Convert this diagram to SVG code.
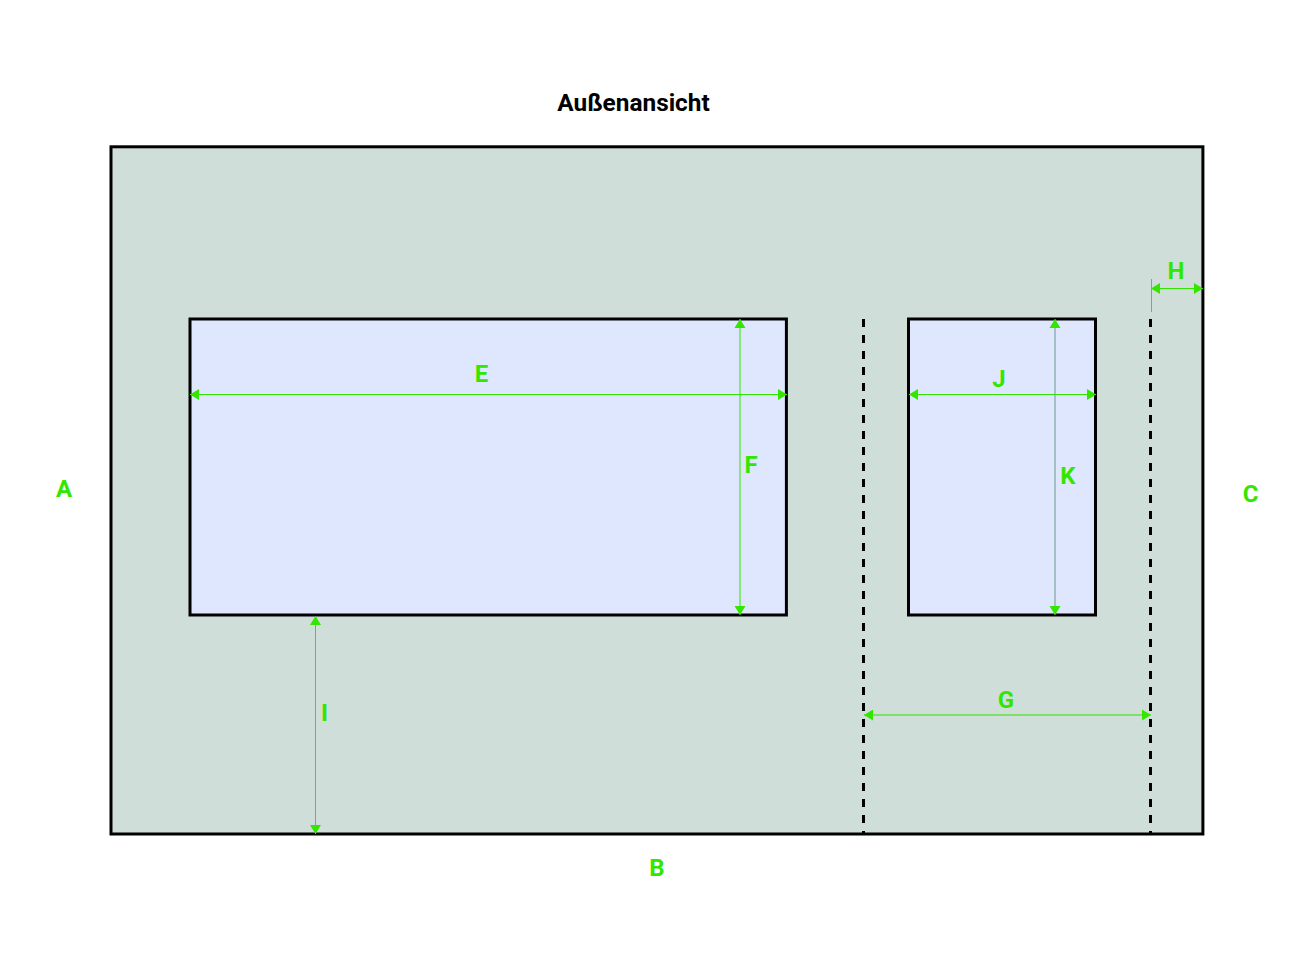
<svg xmlns="http://www.w3.org/2000/svg" width="1312" height="955" viewBox="0 0 1312 955">
<style>
text{font-family:Roboto,"Liberation Sans",sans-serif;font-weight:700;text-anchor:middle}
.l{font-size:24px;fill:#33e600}
.b{stroke:#000;stroke-width:3}
.d{fill:none;stroke:#000;stroke-width:3;stroke-dasharray:8 8}
.c{fill:none;stroke:#33e600;stroke-width:1;marker-start:url(#s);marker-end:url(#e)}
.k{stroke-width:1.500;stroke-opacity:.7}
</style>
<defs>
<marker id="e" markerUnits="userSpaceOnUse" markerWidth="10" markerHeight="12" refX="9" refY="5.500" orient="auto"><path d="M0 0L9 5.500L0 11Z" fill="#33e600"/></marker>
<marker id="s" markerUnits="userSpaceOnUse" markerWidth="10" markerHeight="12" refX="0" refY="5.500" orient="auto"><path d="M9 0L0 5.500L9 11Z" fill="#33e600"/></marker>
</defs>
<rect width="1312" height="955" fill="#fff"/>
<text x="633.500" y="111" font-size="24.400" fill="#000">Außenansicht</text>
<g id="wall"><rect class="b" x="111" y="146.800" width="1091.900" height="687.200" fill="#d0ded9"/></g>
<g id="window-left"><rect class="b" x="190" y="319" width="596.400" height="296" fill="#dfe7ff"/></g>
<g id="window-right"><rect class="b" x="908.500" y="319" width="187" height="296" fill="#dfe7ff"/></g>
<g id="guides">
<path class="d" d="M863.500 319V834"/>
<path class="d" d="M1150.500 319V834"/>
</g>
<g id="connectors">
<path class="c" d="M190 394.500H787"/>
<path class="c k" d="M740 319V615"/>
<path class="c" d="M909 394.500H1096"/>
<path class="c" style="stroke:#6a9a8a" d="M1055 319V615"/>
<path class="c k" d="M864 715H1151"/>
<path class="c" d="M1151 288.500H1203"/>
<path d="M1151.500 279V312" fill="none" stroke="#33e600"/>
<path class="c" d="M315.500 616V834"/>
</g>
<g id="labels">
<text class="l" x="64" y="497">A</text>
<text class="l" x="657" y="876">B</text>
<text class="l" x="1250.500" y="502">C</text>
<text class="l" x="481.500" y="382">E</text>
<text class="l" x="751" y="473">F</text>
<text class="l" x="1006" y="708">G</text>
<text class="l" x="1176" y="279">H</text>
<text class="l" x="324.500" y="721">I</text>
<text class="l" x="999" y="387">J</text>
<text class="l" x="1068" y="484">K</text>
</g>
</svg>
